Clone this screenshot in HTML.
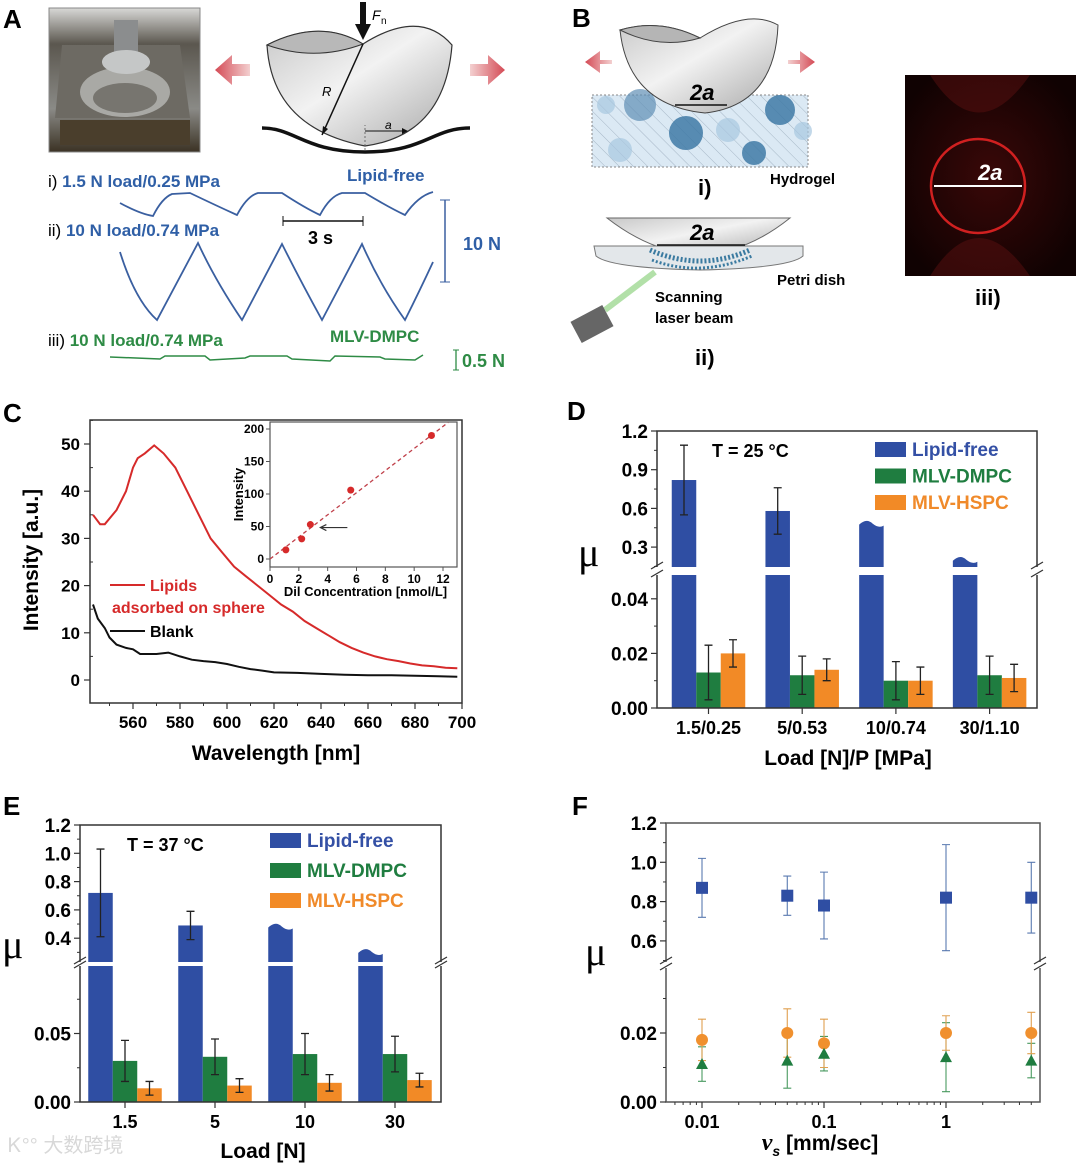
<!DOCTYPE html>
<html><head><meta charset="utf-8"><style>
html,body{margin:0;padding:0;background:#fff;}
svg{display:block;font-family:"Liberation Sans","Noto Sans CJK SC",sans-serif;}
.b{font-weight:bold;}
</style></head><body>
<svg id="fig" width="1080" height="1166" viewBox="0 0 1080 1166" xmlns="http://www.w3.org/2000/svg">
<defs>
<linearGradient id="sph" x1="0" y1="0" x2="1" y2="1"><stop offset="0" stop-color="#c8c8c8"/><stop offset="0.45" stop-color="#f2f2f2"/><stop offset="1" stop-color="#a8a8a8"/></linearGradient>
<linearGradient id="arrL" x1="1" y1="0" x2="0" y2="0"><stop offset="0" stop-color="#f3d0d0"/><stop offset="1" stop-color="#d44a55"/></linearGradient>
<linearGradient id="arrR" x1="0" y1="0" x2="1" y2="0"><stop offset="0" stop-color="#f3d0d0"/><stop offset="1" stop-color="#d44a55"/></linearGradient>
<pattern id="hatch" width="10" height="10" patternUnits="userSpaceOnUse" patternTransform="rotate(-45)"><rect width="10" height="10" fill="#dbe9f4"/><line x1="0" y1="0" x2="0" y2="10" stroke="#9ab" stroke-width="0.8"/></pattern>
<radialGradient id="glow" cx="0.5" cy="0.5" r="0.6"><stop offset="0" stop-color="#3a0808"/><stop offset="0.5" stop-color="#250505"/><stop offset="1" stop-color="#100202"/></radialGradient>
<linearGradient id="photo" x1="0" y1="0" x2="0" y2="1"><stop offset="0" stop-color="#d8d8d6"/><stop offset="0.25" stop-color="#5b574f"/><stop offset="0.7" stop-color="#8a8a86"/><stop offset="1" stop-color="#3b3224"/></linearGradient>
</defs>

<text x="3" y="28" class="b" font-size="26">A</text>
<text x="572" y="27" class="b" font-size="26">B</text>
<text x="3" y="422" class="b" font-size="26">C</text>
<text x="567" y="420" class="b" font-size="26">D</text>
<text x="3" y="815" class="b" font-size="26">E</text>
<text x="572" y="815" class="b" font-size="26">F</text>

<g>
  <g>
    <rect x="49" y="8" width="151" height="144" fill="url(#photo)" stroke="#888"/>
    <path d="M62 45 L180 45 L190 118 L55 118 Z" fill="#6d6a63"/>
    <ellipse cx="125" cy="92" rx="45" ry="25" fill="#a9a9a5"/>
    <ellipse cx="125" cy="98" rx="32" ry="15" fill="#77756f"/>
    <rect x="114" y="20" width="24" height="38" fill="#8b8d8e"/>
    <ellipse cx="126" cy="62" rx="24" ry="12" fill="#c5c7c7"/>
    <rect x="60" y="120" width="130" height="25" fill="#4a3e2c"/>
  </g>
  <g>
    <path d="M267 45 Q272 128 365 146 Q445 135 452 45 Q420 8 363 44 Q320 18 267 45 Z" fill="url(#sph)" stroke="#333" stroke-width="1.2"/>
    <path d="M267 45 Q320 18 363 44 Q315 62 267 45 Z" fill="#b8b8b8" stroke="#333" stroke-width="1"/>
    <path d="M262 128 C295 128 305 152 365 152 C425 152 432 128 470 128" fill="none" stroke="#111" stroke-width="3.5"/>
    <line x1="363" y1="44" x2="322" y2="135" stroke="#111" stroke-width="1.5"/>
    <path d="M322 135 l1 -9 l5 3 z" fill="#111"/>
    <text x="322" y="96" font-size="13" font-style="italic">R</text>
    <line x1="365" y1="150" x2="365" y2="125" stroke="#555" stroke-width="0.8" stroke-dasharray="2,2"/>
    <line x1="365" y1="131" x2="405" y2="131" stroke="#111" stroke-width="1"/>
    <path d="M408 131 l-6 -3 v6 z" fill="#111"/>
    <text x="385" y="129" font-size="12" font-style="italic">a</text>
    <rect x="360" y="2" width="6" height="24" fill="#111"/>
    <path d="M355 24 L371 24 L363 40 Z" fill="#111"/>
    <text x="372" y="20" font-size="14" font-style="italic">F</text><text x="381" y="24" font-size="10">n</text>
    <path d="M250 64 h-18 v-9 l-17 15 l17 15 v-9 h18 z" fill="url(#arrL)"/>
    <path d="M470 64 h18 v-9 l17 15 l-17 15 v-9 h-18 z" fill="url(#arrR)"/>
  </g>
  <text x="48" y="187" font-size="17">i) <tspan class="b" fill="#2f5fa6">1.5 N load/0.25 MPa</tspan></text>
  <text x="347" y="181" class="b" font-size="17" fill="#2f5fa6">Lipid-free</text>
  <path d="M120 203 Q140 214 153 216 Q162 198 172 194 L190 193 Q215 205 237 215 Q247 196 258 193 L282 193 Q305 208 320 215 Q330 196 342 193 L365 193 Q390 208 405 215 Q418 196 433 192" fill="none" stroke="#3a5fa0" stroke-width="1.8"/>
  <text x="48" y="236" font-size="17">ii) <tspan class="b" fill="#2f5fa6">10 N load/0.74 MPa</tspan></text>
  <path d="M120 252 Q135 300 157 320 L198 243 Q215 280 242 320 L282 244 Q300 280 322 320 L362 244 Q380 285 405 320 Q420 290 433 262" fill="none" stroke="#3a5fa0" stroke-width="1.8"/>
  <g>
    <line x1="283" y1="221" x2="363" y2="221" stroke="#111" stroke-width="1.5"/>
    <line x1="283" y1="216" x2="283" y2="226" stroke="#111"/><line x1="363" y1="216" x2="363" y2="226" stroke="#111"/>
    <text x="308" y="244" class="b" font-size="18">3 s</text>
  </g>
  <g>
    <line x1="445" y1="200" x2="445" y2="282" stroke="#3a5fa0" stroke-width="1.5"/>
    <line x1="440" y1="200" x2="450" y2="200" stroke="#3a5fa0"/><line x1="440" y1="282" x2="450" y2="282" stroke="#3a5fa0"/>
    <text x="463" y="250" class="b" font-size="18" fill="#2f5fa6">10 N</text>
  </g>
  <text x="48" y="346" font-size="17">iii) <tspan class="b" fill="#2e8b45">10 N load/0.74 MPa</tspan></text>
  <text x="330" y="342" class="b" font-size="17" fill="#2e8b45">MLV-DMPC</text>
  <path d="M110 357 L160 359 L165 356 L205 356 L210 360 L245 358 L250 356 L287 356 L292 359 L330 361 L335 356 L380 357 L385 359 L415 360 L423 355" fill="none" stroke="#2e8b45" stroke-width="1.5"/>
  <g>
    <line x1="456" y1="350" x2="456" y2="370" stroke="#2e8b45" stroke-width="1.3"/>
    <line x1="453" y1="350" x2="459" y2="350" stroke="#2e8b45"/><line x1="453" y1="370" x2="459" y2="370" stroke="#2e8b45"/>
    <text x="462" y="367" class="b" font-size="18" fill="#2e8b45">0.5 N</text>
  </g>
</g>

<g>
  <path d="M612 60 h-12 v-9 l-15 11 l15 11 v-9 h12 z" fill="url(#arrL)"/>
  <path d="M788 60 h12 v-9 l15 11 l-15 11 v-9 h-12 z" fill="url(#arrR)"/>
  <rect x="592" y="95" width="216" height="72" fill="url(#hatch)" stroke="#888" stroke-dasharray="2,2"/>
  <circle cx="640" cy="105" r="16" fill="#5f8fb5" opacity="0.7"/><circle cx="686" cy="133" r="17" fill="#3f7aa6" opacity="0.85"/>
  <circle cx="780" cy="110" r="15" fill="#3f7aa6" opacity="0.85"/><circle cx="754" cy="153" r="12" fill="#3f7aa6" opacity="0.85"/>
  <circle cx="620" cy="150" r="12" fill="#a8c8e0" opacity="0.7"/><circle cx="728" cy="130" r="12" fill="#a8c8e0" opacity="0.7"/><circle cx="606" cy="105" r="9" fill="#a8c8e0" opacity="0.7"/><circle cx="803" cy="131" r="9" fill="#a8c8e0" opacity="0.7"/>
  <path d="M620 30 Q628 105 705 113 Q775 105 778 25 Q748 8 700 38 Q660 18 620 30 Z" fill="url(#sph)" stroke="#444"/>
  <path d="M620 30 Q660 18 700 38 Q660 50 620 30 Z" fill="#b5b5b5" stroke="#444"/>
  <line x1="675" y1="105" x2="727" y2="105" stroke="#111" stroke-width="1.5"/>
  <text x="690" y="100" class="b" font-size="22" font-style="italic">2a</text>
  <text x="698" y="195" class="b" font-size="22">i)</text>
  <text x="770" y="184" class="b" font-size="15">Hydrogel</text>
  <path d="M607 218 Q700 290 790 218 Z" fill="url(#sph)" stroke="#666"/>
  <path d="M594 246 L803 246 L803 256 Q790 268 700 270 Q610 268 596 256 Z" fill="#e3e7ea" stroke="#777"/>
  <path d="M650 250 Q700 272 750 250" fill="none" stroke="#3a7aa0" stroke-width="5" stroke-dasharray="2,2"/>
  <path d="M652 260 Q700 278 752 256" fill="none" stroke="#3a7aa0" stroke-width="3" stroke-dasharray="2,2"/>
  <line x1="657" y1="245" x2="745" y2="245" stroke="#111" stroke-width="1.5"/>
  <text x="690" y="240" class="b" font-size="22" font-style="italic">2a</text>
  <text x="777" y="285" class="b" font-size="15">Petri dish</text>
  <text x="655" y="302" class="b" font-size="15">Scanning</text>
  <text x="655" y="323" class="b" font-size="15">laser beam</text>
  <path d="M605 310 L655 272" stroke="#7fcc70" stroke-width="6" opacity="0.6"/>
  <rect x="574" y="312" width="36" height="24" fill="#666" transform="rotate(-28 592 324)"/>
  <text x="695" y="365" class="b" font-size="22">ii)</text>
  <rect x="905" y="75" width="171" height="201" fill="url(#glow)"/>
  <path d="M930 75 Q978 150 1030 75 Z M930 276 Q978 200 1030 276 Z" fill="#5a1010" opacity="0.5"/>
  <circle cx="978" cy="186" r="47" fill="none" stroke="#d02020" stroke-width="2.5"/>
  <line x1="934" y1="186" x2="1022" y2="186" stroke="#fff" stroke-width="2"/>
  <text x="978" y="180" class="b" font-size="22" font-style="italic" fill="#fff">2a</text>
  <text x="975" y="305" class="b" font-size="22">iii)</text>
</g>

<text x="276" y="760" text-anchor="middle" class="b" font-size="21">Wavelength [nm]</text>
<text transform="translate(38 560) rotate(-90)" text-anchor="middle" class="b" font-size="21">Intensity [a.u.]</text>
<text x="848" y="765" text-anchor="middle" class="b" font-size="21">Load [N]/P [MPa]</text>
<text x="263" y="1158" text-anchor="middle" class="b" font-size="21">Load [N]</text>
<text x="820" y="1150" text-anchor="middle" class="b" font-size="21"><tspan font-family="Liberation Serif" font-style="italic" font-size="24">v</tspan><tspan font-size="14" dy="6" font-style="italic">s</tspan><tspan dy="-6"> [mm/sec]</tspan></text>
<text x="578" y="566" font-family="Liberation Serif" font-size="40">μ</text>
<text x="2" y="958" font-family="Liberation Serif" font-size="40">μ</text>
<text x="585" y="965" font-family="Liberation Serif" font-size="40">μ</text>
<text x="712" y="457" class="b" font-size="18">T = 25 °C</text>
<text x="127" y="851" class="b" font-size="18">T = 37 °C</text>
<text x="8" y="1152" font-size="20" fill="#d8d8d8">Ꮶ°° 大数跨境</text>

<g>
  <line x1="110" y1="585" x2="145" y2="585" stroke="#d62a2a" stroke-width="2"/>
  <text x="150" y="591" class="b" font-size="16" fill="#d62a2a">Lipids</text>
  <text x="112" y="613" class="b" font-size="16" fill="#d62a2a">adsorbed on sphere</text>
  <line x1="110" y1="631" x2="145" y2="631" stroke="#111" stroke-width="2"/>
  <text x="150" y="637" class="b" font-size="16">Blank</text>
</g>
</svg>
<script>
// ---------- Panel C data ----------
const cRedX=[543,546,548,553,557,560,562,565,569,573,578,583,588,593,598,603,608,613,618,623,628,633,638,643,648,653,658,663,668,673,678,683,688,693,698];
const cRedY=[35,33,33,36,40,45,47,48,49.7,48,45,40,35,30,27,24,22,20,18,16,14.5,12.5,11,9.5,8,6.8,5.8,5,4.4,4,3.5,3.1,2.9,2.6,2.5];
const cBlkX=[543,545,548,550,553,557,560,563,570,575,580,585,590,595,600,605,610,615,620,630,640,650,660,670,680,690,698];
const cBlkY=[16,13,11,9,7.5,6.8,6.5,5.5,5.5,5.8,5,4.3,4,3.8,3.4,2.8,2.3,2,1.6,1.5,1.3,1.1,1,1,0.9,0.8,0.7];
const cXTicks=[560,580,600,620,640,660,680,700];
const cYTicks=[0,10,20,30,40,50];
const inConc=[1.1,2.2,2.8,5.6,11.2];
const inInt=[14,31,53,106,190];
const inXTicks=[0,2,4,6,8,10,12];
const inYTicks=[0,50,100,150,200];
const inSlope=[17];
// ---------- Panel D data ----------
const dCats=['1.5/0.25','5/0.53','10/0.74','30/1.10'];
const dBlue=[0.82,0.58,0.49,0.21];
const dBlueErr=[0.27,0.18,0,0];
const dBlueWavy=[false,false,true,true];
const dGreen=[0.013,0.012,0.010,0.012];
const dGreenErr=[0.010,0.007,0.007,0.007];
const dOrange=[0.020,0.014,0.010,0.011];
const dOrangeErr=[0.005,0.004,0.005,0.005];
const dUpTicks=[0.3,0.6,0.9,1.2];
const dLoTicks=[0.00,0.02,0.04];
// ---------- Panel E data ----------
const eCats=['1.5','5','10','30'];
const eBlue=[0.72,0.49,0.49,0.31];
const eBlueErr=[0.31,0.10,0,0];
const eBlueWavy=[false,false,true,true];
const eGreen=[0.030,0.033,0.035,0.035];
const eGreenErr=[0.015,0.013,0.015,0.013];
const eOrange=[0.010,0.012,0.014,0.016];
const eOrangeErr=[0.005,0.005,0.006,0.005];
const eUpTicks=[0.4,0.6,0.8,1.0,1.2];
const eLoTicks=[0.00,0.05];
// ---------- Panel F data ----------
const fSpeed=[0.01,0.05,0.1,1,5];
const fBlue=[0.87,0.83,0.78,0.82,0.82];
const fBlueErr=[0.15,0.10,0.17,0.27,0.18];
const fOrange=[0.018,0.020,0.017,0.020,0.020];
const fOrangeErr=[0.006,0.007,0.007,0.005,0.006];
const fGreen=[0.011,0.012,0.014,0.013,0.012];
const fGreenErr=[0.005,0.008,0.005,0.010,0.005];
const fXTicks=[0.01,0.1,1];
const fXTickLabels=['0.01','0.1','1'];
const fUpTicks=[0.6,0.8,1.0,1.2];
const fLoTicks=[0.00,0.02];

const NS='http://www.w3.org/2000/svg';
const svg=document.getElementById('fig');
function el(tag,attrs,parent){const e=document.createElementNS(NS,tag);for(const k in attrs)e.setAttribute(k,attrs[k]);(parent||svg).appendChild(e);return e;}
function txt(s,attrs,parent){const t=el('text',attrs,parent);t.textContent=s;return t;}
function fmt(v,d){return v.toFixed(d);}
const BLUE='#2f4ea3',GREEN='#1f7d40',ORANGE='#f28a26';

// ===== Panel C =====
(function(){
  const g=el('g',{});
  
  
  const L=90,R=462,T=420,B=703;
  const x=v=>133+(v-560)*(462-133)/140;
  const y=v=>680-v*(680-444)/50;
  const fr=el('rect',{x:L,y:T,width:R-L,height:B-T,fill:'none',stroke:'#333','stroke-width':1.5},g);
  
  
  cXTicks.forEach(v=>{
    const t=el('line',{x1:x(v),x2:x(v),y1:B,y2:B+6,stroke:'#333','stroke-width':1.2},g);
    
    
    const m=el('line',{x1:x(v-10),x2:x(v-10),y1:B,y2:B+3,stroke:'#333'},g);
    
    
    const lb=txt(String(v),{x:x(v),y:B+25,'text-anchor':'middle','class':'b','font-size':17},g);
    
    
  });
  cYTicks.forEach(v=>{
    const t=el('line',{x1:L-6,x2:L,y1:y(v),y2:y(v),stroke:'#333','stroke-width':1.2},g);
    
    
    const m=el('line',{x1:L,x2:L+3,y1:y(v+5),y2:y(v+5),stroke:'#333'},g);
    
    
    const lb=txt(String(v),{x:L-10,y:y(v)+6,'text-anchor':'end','class':'b','font-size':17},g);
    
    
  });
  const red=el('path',{d:cRedX.map((v,i)=>(i?'L':'M')+x(v).toFixed(1)+' '+y(cRedY[i]).toFixed(1)).join(' '),fill:'none',stroke:'#d62a2a','stroke-width':2},g);
  
  
  const blk=el('path',{d:cBlkX.map((v,i)=>(i?'L':'M')+x(v).toFixed(1)+' '+y(cBlkY[i]).toFixed(1)).join(' '),fill:'none',stroke:'#111','stroke-width':2},g);
  
  
  const ig=el('g',{},g);
  
  
  const iL=270,iR=457,iT=422,iB=567;
  const ix=v=>270+v*(443-270)/12;
  const iy=v=>559-v*(559-429)/200;
  const ifr=el('rect',{x:iL,y:iT,width:iR-iL,height:iB-iT,fill:'#fff',stroke:'#555','stroke-width':1.2},ig);
  
  
  inXTicks.forEach(v=>{
    const t=el('line',{x1:ix(v),x2:ix(v),y1:iB,y2:iB+4,stroke:'#555'},ig);
    
    
    const lb=txt(String(v),{x:ix(v),y:iB+16,'text-anchor':'middle','class':'b','font-size':12},ig);
    
    
  });
  inYTicks.forEach(v=>{
    const t=el('line',{x1:iL-4,x2:iL,y1:iy(v),y2:iy(v),stroke:'#555'},ig);
    
    
    const lb=txt(String(v),{x:iL-6,y:iy(v)+4,'text-anchor':'end','class':'b','font-size':12},ig);
    
    
  });
  const xEnd=Math.min(12.8,200*1.05/inSlope[0]);
  const fit=el('line',{x1:ix(0),y1:iy(0),x2:ix(xEnd),y2:Math.max(iT,iy(inSlope[0]*xEnd)),stroke:'#c0404a','stroke-width':1.3,'stroke-dasharray':'4,3'},ig);
  
  
  inConc.forEach((v,i)=>{
    const c=el('circle',{cx:ix(v),cy:iy(inInt[i]),r:3.5,fill:'#d62a2a'},ig);
    
    
  });
  const ar=el('path',{d:`M${ix(inConc[2])+37} ${iy(inInt[2])+3} H${ix(inConc[2])+10} m6 -3 l-6 3 l6 3`,fill:'none',stroke:'#333','stroke-width':1.2},ig);
  
  
  const ixl=txt('Dil Concentration [nmol/L]',{x:(iL+iR)/2+2,y:596,'text-anchor':'middle','class':'b','font-size':13},ig);
  
  
  const iyl=txt('Intensity',{transform:`translate(243 ${(iT+iB)/2}) rotate(-90)`,'text-anchor':'middle','class':'b','font-size':13},ig);
  
  
})();

function brokenBars(o,prefix){
  const g=el('g',{});
  
  
  const {L,R,T,B,upY,loY,brU,brL}=o;
  o.cats.forEach((c,i)=>{
    const cx=o.cx0+i*o.step, w=o.w;
    const bx=cx-1.5*w;
    const v=o.blue[i];
    const lo=el('rect',{x:bx,y:brL,width:w,height:B-brL,fill:BLUE},g);
    
    
    const yv=upY(v);
    let up;
    if(o.wavy[i]){
      up=el('path',{d:`M${bx} ${yv+2} Q${bx+w*0.3} ${yv-5} ${bx+w*0.55} ${yv+1} Q${bx+w*0.8} ${yv+6} ${bx+w} ${yv+3} L${bx+w} ${brU} L${bx} ${brU} Z`,fill:BLUE},g);
    } else {
      up=el('rect',{x:bx,y:yv,width:w,height:brU-yv,fill:BLUE},g);
    }
    
    
    if(o.blueErr[i]>0){
      const e=o.blueErr[i];
      const eb=el('path',{d:`M${cx-w} ${upY(v+e)} V${upY(v-e)} M${cx-w-4} ${upY(v+e)} h8 M${cx-w-4} ${upY(v-e)} h8`,stroke:'#222','stroke-width':1.3,fill:'none'},g);
      
      
    }
    [[o.green,o.greenErr,GREEN,'mlv-dmpc',cx-w/2],[o.orange,o.orangeErr,ORANGE,'mlv-hspc',cx+w/2]].forEach(s=>{
      const val=s[0][i],er=s[1][i];
      const r=el('rect',{x:s[4],y:loY(val),width:w,height:B-loY(val),fill:s[2]},g);
      
      
      const m=s[4]+w/2;
      const eb=el('path',{d:`M${m} ${loY(val+er)} V${loY(val-er)} M${m-4} ${loY(val+er)} h8 M${m-4} ${loY(val-er)} h8`,stroke:'#222','stroke-width':1.3,fill:'none'},g);
      
      
    });
    const tk=el('line',{x1:cx,x2:cx,y1:B,y2:B+6,stroke:'#333','stroke-width':1.2},g);
    
    
    const lb=txt(c,{x:cx,y:B+26,'text-anchor':'middle','class':'b','font-size':18},g);
    
    
  });
  const fr=el('path',{d:`M${L} ${brU} V${T} H${R} V${brU} M${L} ${brL} V${B} H${R} V${brL}`,fill:'none',stroke:'#333','stroke-width':1.5},g);
  
  
  [L,R].forEach(xx=>{
    const br=el('path',{d:`M${xx-6} ${brU+2} l12 -7 M${xx-6} ${brL+2} l12 -7`,stroke:'#333','stroke-width':1.3},g);
    
    
  });
  o.upTicks.forEach(v=>{
    const t=el('line',{x1:L-6,x2:L,y1:upY(v),y2:upY(v),stroke:'#333','stroke-width':1.2},g);
    
    
    const mv=v-o.upMinor;
    if(upY(mv)<brU){
      const m=el('line',{x1:L-3,x2:L,y1:upY(mv),y2:upY(mv),stroke:'#333'},g);
      
      
    }
    const lb=txt(fmt(v,1),{x:L-9,y:upY(v)+7,'text-anchor':'end','class':'b','font-size':19},g);
    
    
  });
  o.loTicks.forEach(v=>{
    const t=el('line',{x1:L-6,x2:L,y1:loY(v),y2:loY(v),stroke:'#333','stroke-width':1.2},g);
    
    
    const mv=v+o.loMinor;
    if(loY(mv)>brL){
      const m=el('line',{x1:L-3,x2:L,y1:loY(mv),y2:loY(mv),stroke:'#333'},g);
      
      
    }
    const lb=txt(fmt(v,2),{x:L-9,y:loY(v)+7,'text-anchor':'end','class':'b','font-size':19},g);
    
    
  });
  [['Lipid-free',BLUE,'#3450a5'],['MLV-DMPC',GREEN,'#1f7d40'],['MLV-HSPC',ORANGE,'#f08a2a']].forEach((s,k)=>{
    const sw=el('rect',{x:o.legX,y:o.legY+k*o.legStep,width:31,height:15,fill:s[1]},g);
    
    
    const lt=txt(s[0],{x:o.legX+37,y:o.legY+k*o.legStep+14,'class':'b','font-size':19,fill:s[2]},g);
    
    
  });
}
brokenBars({L:657,R:1037,T:431,B:708,brU:567,brL:575,
  upY:v=>431+(1.2-v)*38.7/0.3, loY:v=>708-v*54.6/0.02,
  cats:dCats,blue:dBlue,blueErr:dBlueErr,wavy:dBlueWavy,green:dGreen,greenErr:dGreenErr,orange:dOrange,orangeErr:dOrangeErr,
  upTicks:dUpTicks,loTicks:dLoTicks,upMinor:0.15,loMinor:0.01,cx0:708.5,step:93.7,w:24.5,legX:875,legY:442,legStep:26.5},'d');
brokenBars({L:80,R:441,T:825,B:1102,brU:962,brL:966,
  upY:v=>825+(1.2-v)*28.3/0.2, loY:v=>1102-v*68.5/0.05,
  cats:eCats,blue:eBlue,blueErr:eBlueErr,wavy:eBlueWavy,green:eGreen,greenErr:eGreenErr,orange:eOrange,orangeErr:eOrangeErr,
  upTicks:eUpTicks,loTicks:eLoTicks,upMinor:0.1,loMinor:0.025,cx0:125,step:90,w:24.5,legX:270,legY:833,legStep:30},'e');

(function(){
  const g=el('g',{});
  
  
  const L=666,R=1040,T=823,B=1102,brU=962,brL=968;
  const x=v=>702+(Math.log10(v)+2)*122;
  const upY=v=>823+(1.2-v)*39.3/0.2;
  const loY=v=>1102-v*69/0.02;
  const fr=el('path',{d:`M${L} ${brU} V${T} H${R} V${brU} M${L} ${brL} V${B} H${R} V${brL}`,fill:'none',stroke:'#555','stroke-width':1.5},g);
  
  
  [L,R].forEach(xx=>{
    const br=el('path',{d:`M${xx-6} ${brU+2} l12 -7 M${xx-6} ${brL+2} l12 -7`,stroke:'#333','stroke-width':1.3},g);
    
    
  });
  fXTicks.forEach((v,i)=>{
    const t=el('line',{x1:x(v),x2:x(v),y1:B,y2:B+6,stroke:'#333','stroke-width':1.2},g);
    
    
    const lb=txt(fXTickLabels[i],{x:x(v),y:B+26,'text-anchor':'middle','class':'b','font-size':18},g);
    
    
  });
  for(let d=-3;d<=0;d++){for(let k=2;k<=9;k++){const v=k*Math.pow(10,d);const xx=x(v);if(xx>L&&xx<R){
    const m=el('line',{x1:xx,x2:xx,y1:B,y2:B+3,stroke:'#333'},g);
    
    
  }}}
  fUpTicks.forEach(v=>{
    const t=el('line',{x1:L-6,x2:L,y1:upY(v),y2:upY(v),stroke:'#333','stroke-width':1.2},g);
    
    
    const m=el('line',{x1:L-3,x2:L,y1:upY(v-0.1),y2:upY(v-0.1),stroke:'#333'},g);
    
    
    const lb=txt(fmt(v,1),{x:L-9,y:upY(v)+7,'text-anchor':'end','class':'b','font-size':19},g);
    
    
  });
  fLoTicks.forEach(v=>{
    const t=el('line',{x1:L-6,x2:L,y1:loY(v),y2:loY(v),stroke:'#333','stroke-width':1.2},g);
    
    
    const m=el('line',{x1:L-3,x2:L,y1:loY(v+0.01),y2:loY(v+0.01),stroke:'#333'},g);
    
    
    const lb=txt(fmt(v,2),{x:L-9,y:loY(v)+7,'text-anchor':'end','class':'b','font-size':19},g);
    
    
  });
  function err(cx,y1,y2,col){
    const e=el('path',{d:`M${cx} ${y1} V${y2} M${cx-4} ${y1} h8 M${cx-4} ${y2} h8`,stroke:col,'stroke-width':1.1,fill:'none'},g);
    
    
  }
  fSpeed.forEach((s,i)=>{
    const cx=x(s);
    err(cx,upY(fBlue[i]+fBlueErr[i]),upY(fBlue[i]-fBlueErr[i]),'#5a7ab0');
    const sq=el('rect',{x:cx-6,y:upY(fBlue[i])-6,width:12,height:12,fill:'#2f4ea3'},g);
    
    
    err(cx,loY(fGreen[i]+fGreenErr[i]),loY(fGreen[i]-fGreenErr[i]),'#4a9a60');
    err(cx,loY(fOrange[i]+fOrangeErr[i]),loY(fOrange[i]-fOrangeErr[i]),'#e0a050');
    const ci=el('circle',{cx:cx,cy:loY(fOrange[i]),r:6,fill:'#f0902e'},g);
    
    
    const yg=loY(fGreen[i]);
    const tr=el('path',{d:`M${cx} ${yg-6} L${cx+6} ${yg+5} L${cx-6} ${yg+5} Z`,fill:'#1f7d40'},g);
    
    
  });
})();
</script>
</body></html>
